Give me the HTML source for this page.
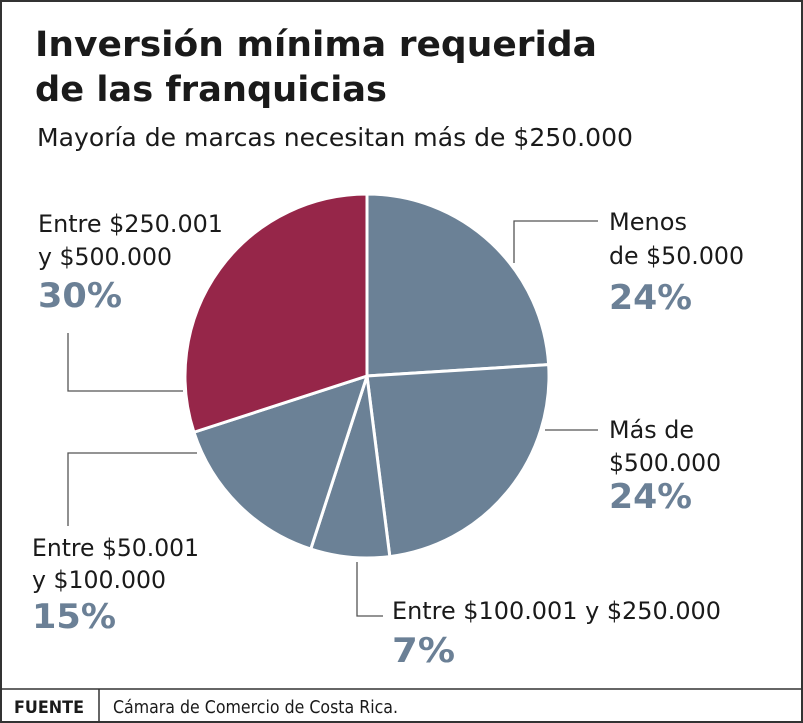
<!DOCTYPE html>
<html><head><meta charset="utf-8"><style>
html,body{margin:0;padding:0;background:#fff}
svg{display:block}
text{font-family:"DejaVu Sans","Liberation Sans",sans-serif}
</style></head><body>
<svg id="chart" width="803" height="723" viewBox="0 0 803 723">
<rect x="1" y="1" width="801" height="721" fill="#fff" stroke="#333" stroke-width="2"/>
<text x="35" y="56" font-size="35" font-weight="bold" fill="#1a1a1a" textLength="562" lengthAdjust="spacingAndGlyphs">Inversión mínima requerida</text>
<text x="35" y="101" font-size="35" font-weight="bold" fill="#1a1a1a" textLength="352" lengthAdjust="spacingAndGlyphs">de las franquicias</text>
<text x="37" y="146" font-size="25" fill="#1a1a1a" textLength="596" lengthAdjust="spacingAndGlyphs">Mayoría de marcas necesitan más de $250.000</text>
<g id="slices"></g>
<g id="leaders" stroke="#555" stroke-width="1.3" fill="none">
<polyline points="514,263 514,221 598,221"/>
<polyline points="545,430 598,430"/>
<polyline points="357,562 357,616 383,616"/>
<polyline points="197,453 68,453 68,526"/>
<polyline points="183,391 68,391 68,333"/>
</g>
<g font-size="24" fill="#1a1a1a" lengthAdjust="spacingAndGlyphs">
<text x="609" y="230" textLength="78" lengthAdjust="spacingAndGlyphs">Menos</text>
<text x="609" y="264" textLength="135" lengthAdjust="spacingAndGlyphs">de $50.000</text>
<text x="609" y="438" textLength="85" lengthAdjust="spacingAndGlyphs">Más de</text>
<text x="609" y="471" textLength="112" lengthAdjust="spacingAndGlyphs">$500.000</text>
<text x="392" y="619" textLength="329" lengthAdjust="spacingAndGlyphs">Entre $100.001 y $250.000</text>
<text x="32" y="556" textLength="167" lengthAdjust="spacingAndGlyphs">Entre $50.001</text>
<text x="32" y="588" textLength="134" lengthAdjust="spacingAndGlyphs">y $100.000</text>
<text x="38" y="232" textLength="185" lengthAdjust="spacingAndGlyphs">Entre $250.001</text>
<text x="38" y="265" textLength="134" lengthAdjust="spacingAndGlyphs">y $500.000</text>
</g>
<g font-size="34" font-weight="bold" fill="#6b8096">
<text x="609" y="309" textLength="83" lengthAdjust="spacingAndGlyphs">24%</text>
<text x="609" y="508" textLength="83" lengthAdjust="spacingAndGlyphs">24%</text>
<text x="392" y="662" textLength="63" lengthAdjust="spacingAndGlyphs">7%</text>
<text x="32" y="628" textLength="84" lengthAdjust="spacingAndGlyphs">15%</text>
<text x="38" y="307" textLength="84" lengthAdjust="spacingAndGlyphs">30%</text>
</g>
<line x1="1" y1="689" x2="802" y2="689" stroke="#333" stroke-width="1.5"/>
<line x1="99" y1="689" x2="99" y2="722" stroke="#333" stroke-width="1.5"/>
<text x="14" y="713" font-size="17" font-weight="bold" fill="#1a1a1a" textLength="70" lengthAdjust="spacingAndGlyphs">FUENTE</text>
<text x="113" y="713" font-size="18" fill="#1a1a1a" textLength="285" lengthAdjust="spacingAndGlyphs">Cámara de Comercio de Costa Rica.</text>
</svg>
<script>
const categories = ["Menos de $50.000","Más de $500.000","Entre $100.001 y $250.000","Entre $50.001 y $100.000","Entre $250.001 y $500.000"];
const values = [24, 24, 7, 15, 30];
const sliceColors = ["#6b8196","#6b8196","#6b8196","#6b8196","#962649"];
(function(){
  const cx=367, cy=376, r=182;
  const total = values.reduce((a,b)=>a+b,0);
  const g=document.getElementById('slices');
  let a0=0;
  function pt(a){return [cx+r*Math.sin(a), cy-r*Math.cos(a)];}
  values.forEach((v,i)=>{
    const a1=a0+v/total*2*Math.PI;
    const p0=pt(a0), p1=pt(a1);
    const large=(a1-a0)>Math.PI?1:0;
    const path=document.createElementNS('http://www.w3.org/2000/svg','path');
    path.setAttribute('d',`M${cx},${cy} L${p0[0]},${p0[1]} A${r},${r} 0 ${large} 1 ${p1[0]},${p1[1]} Z`);
    path.setAttribute('fill',sliceColors[i]);
    path.setAttribute('stroke','#fff');
    path.setAttribute('stroke-width','3');
    path.setAttribute('stroke-linejoin','round');
    
    
    g.appendChild(path);
    a0=a1;
  });
})();
</script>
</body></html>
